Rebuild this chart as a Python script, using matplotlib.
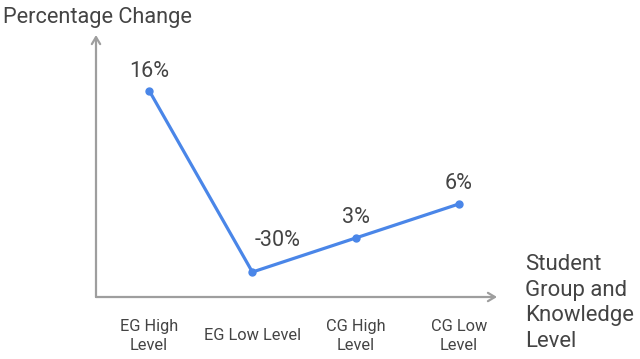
import numpy as np
import matplotlib
matplotlib.use("Agg")
import matplotlib.pyplot as plt

plt.rcParams['font.family'] = ['Roboto', 'DejaVu Sans']

# dados
grupos = ['EG High\nLevel', 'EG Low Level', 'CG High\nLevel', 'CG Low\nLevel']
variacao = [16, -30, 3, 6]          # rótulos (%)
# o gráfico original corta valores negativos na linha base (0)
altura = np.clip(variacao, 0, None)

corLinha = '#4a86e8'
corTexto = '#444444'
corEixo = '#9e9e9e'

fig = plt.figure(figsize=(6.4, 3.59), dpi=100)
ax = fig.add_axes([0.15, 0.1727, 0.6266, 0.7298])

x = np.arange(len(grupos))
ax.plot(x, altura, color=corLinha, linewidth=2.3, marker='o', markersize=5,
        solid_capstyle='round', zorder=3)

# rótulos de cada ponto
deslocamentos = [(0, 14), (18, 23), (0, 14.5), (0, 14.5)]
for xi, yi, v, d in zip(x, altura, variacao, deslocamentos):
    ax.annotate(f'{v}%', (xi, yi), xytext=d, textcoords='offset points',
                ha='center', va='center', fontsize=15.5, color=corTexto)

ax.set_xlim(-0.515, 3.37)
ax.set_ylim(-2.2, 20.9)

for s in ax.spines.values():
    s.set_visible(False)
ax.set_yticks([])
ax.set_xticks(x, grupos)
ax.tick_params(axis='x', length=0, pad=28, labelsize=11.8, labelcolor=corTexto)
for lbl in ax.get_xticklabels():
    lbl.set_verticalalignment('center')
    lbl.set_linespacing(1.27)

# eixos com setas
ax.annotate('', xy=(0, 1.0), xytext=(0, 0), xycoords='axes fraction',
            arrowprops=dict(arrowstyle='->,head_length=0.5,head_width=0.3',
                            color=corEixo, lw=1.6, shrinkA=0, shrinkB=0))
ax.annotate('', xy=(1.0, 0), xytext=(0, 0), xycoords='axes fraction',
            arrowprops=dict(arrowstyle='->,head_length=0.5,head_width=0.3',
                            color=corEixo, lw=1.6, shrinkA=0, shrinkB=0))

fig.text(3 / 640, 1 - 18 / 359, 'Percentage Change', ha='left', va='center',
         fontsize=15.7, color=corTexto)
fig.text(525 / 640, 1 - 303 / 359, 'Student\nGroup and\nKnowledge\nLevel',
         ha='left', va='center', fontsize=15.9, color=corTexto, linespacing=1.3)

fig.savefig('out.png', dpi=100)
